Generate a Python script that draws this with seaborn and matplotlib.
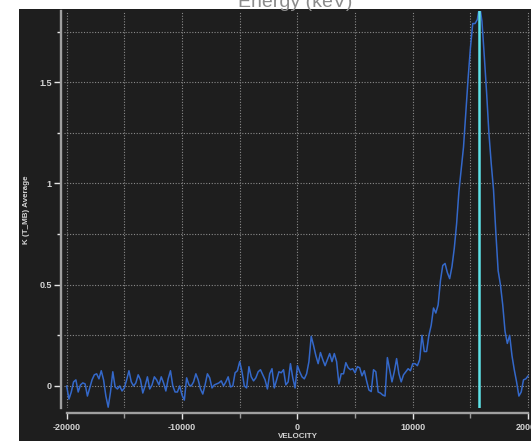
import matplotlib
matplotlib.use("Agg")
import matplotlib.pyplot as plt
from matplotlib.patches import Rectangle
from matplotlib.ticker import MultipleLocator, FuncFormatter
import numpy as np
import pandas as pd
import seaborn as sns

# --- data (channels every 200 km/s) ---
velocity = np.linspace(-20000, 20000, 201)
k_tmb_avg = [
    0.00, -0.065, -0.03, 0.02, 0.03, -0.03, 0.005, 0.015, 0.01, -0.05,
    -0.01, 0.03, 0.055, 0.06, 0.035, 0.075, 0.03, -0.05, -0.105, -0.03,
    0.07, -0.005, -0.015, 0.0, -0.025, -0.01, 0.03, 0.075, 0.02, 0.0,
    0.015, 0.055, 0.03, -0.035, 0.0, 0.045, -0.015, 0.005, 0.045, 0.03,
    0.005, 0.045, 0.015, -0.025, 0.035, 0.075, 0.0, -0.03, -0.03, 0.0,
    -0.045, -0.07, 0.04, 0.005, 0.0, 0.02, 0.06, 0.03, -0.015, -0.04,
    0.005, 0.06, 0.04, -0.01, 0.005, 0.01, 0.015, 0.025, 0.0, 0.02,
    0.045, -0.005, 0.0, 0.065, 0.075, 0.12, 0.07, 0.0, -0.01, 0.095,
    0.045, 0.025, 0.04, 0.07, 0.08, 0.055, 0.03, -0.015, 0.06, 0.085,
    -0.01, 0.03, 0.07, 0.065, 0.08, 0.005, 0.02, 0.11, 0.04, -0.01,
    0.10, 0.07, 0.045, 0.035, 0.06, 0.12, 0.245, 0.20, 0.15, 0.11,
    0.165, 0.13, 0.10, 0.13, 0.16, 0.12, 0.16, 0.12, 0.01, 0.06,
    0.06, 0.115, 0.09, 0.08, 0.085, 0.065, 0.095, 0.09, 0.05, 0.075,
    0.025, -0.02, -0.028, 0.08, 0.07, -0.03, -0.035, -0.045, -0.05, 0.14,
    0.08, 0.02, 0.07, 0.135, 0.06, 0.02, 0.055, 0.07, 0.085, 0.075,
    0.11, 0.11, 0.10, 0.13, 0.25, 0.17, 0.17, 0.25, 0.30, 0.385,
    0.36, 0.40, 0.52, 0.595, 0.605, 0.56, 0.53, 0.59, 0.68, 0.80,
    0.96, 1.07, 1.18, 1.35, 1.52, 1.67, 1.79, 1.79, 1.81, 1.88,
    1.80, 1.63, 1.45, 1.25, 1.10, 0.97, 0.76, 0.57, 0.50, 0.40,
    0.27, 0.21, 0.25, 0.15, 0.08, 0.02, -0.05, -0.03, 0.03, 0.035, 0.05,
]
marker_velocity = 15700

df = pd.DataFrame({"VELOCITY": velocity, "K (T_MB) Average": k_tmb_avg})

# --- style ---
sns.set_style("dark")
plt.rcParams["font.family"] = ["Liberation Sans", "DejaVu Sans"]
bg = "#1e1e1e"
txt = "#d4d4d4"
grid_c = "#8a8a8a"

W, H = 531, 441
fig = plt.figure(figsize=(W / 100, H / 100), dpi=100, facecolor="white")
fig.add_artist(Rectangle((19 / W, 0), 1 - 19 / W, 1 - 9 / H,
                         transform=fig.transFigure, facecolor=bg,
                         edgecolor="none", zorder=0))
ax = fig.add_axes([64 / W, (H - 408) / H, 467 / W, 397 / H])
ax.set_facecolor(bg)

sns.lineplot(data=df, x="VELOCITY", y="K (T_MB) Average", ax=ax,
             color="#3468c9", linewidth=1.1, zorder=3)
ax.axvline(marker_velocity, color="#5fe3e8", linewidth=1.8, zorder=4)

ax.set_xlim(-20230, 20250)
ax.set_ylim(-0.109, 1.852)

ax.xaxis.set_major_locator(MultipleLocator(10000))
ax.xaxis.set_minor_locator(MultipleLocator(5000))
ax.yaxis.set_major_locator(MultipleLocator(0.5))
ax.yaxis.set_minor_locator(MultipleLocator(0.25))
ax.xaxis.set_major_formatter(FuncFormatter(lambda v, p: f"{v:.0f}"))
ax.yaxis.set_major_formatter(FuncFormatter(lambda v, p: f"{v:g}"))

ax.grid(True, which="both", color=grid_c, linestyle=(0, (1, 1.5)),
        linewidth=0.8, zorder=1)

for s in ("top", "right"):
    ax.spines[s].set_visible(False)
ax.spines["left"].set_position(("outward", 2.2))
ax.spines["bottom"].set_position(("outward", 3.6))
ax.spines["bottom"].set_bounds(-20000, 20000)
for s in ("left", "bottom"):
    ax.spines[s].set_color("#a0a0a0")
    ax.spines[s].set_linewidth(1.7)

ax.tick_params(axis="both", which="both", direction="out", bottom=True, left=True)
ax.tick_params(axis="x", which="major", length=4, width=1, color="#e6e6e6",
               labelsize=6.5, labelcolor=txt, pad=3)
ax.tick_params(axis="x", which="minor", length=3.5, width=1, color="#9a9a9a")
ax.tick_params(axis="y", which="major", length=5, width=1, color="#e6e6e6",
               labelsize=6.5, labelcolor=txt, pad=1.5)
ax.tick_params(axis="y", which="minor", length=3, width=1, color="#e6e6e6")
for lab in ax.get_xticklabels() + ax.get_yticklabels():
    lab.set_fontweight("bold")

ax.set_xlabel("VELOCITY", fontsize=5.8, fontweight="bold", color=txt, labelpad=1)
ax.set_ylabel("K (T_MB) Average", fontsize=5.8, fontweight="bold", color=txt)
ax.yaxis.set_label_coords((30 - 64) / 467, 0.5)

fig.text(295 / W, 1 - 7 / H, "Energy (keV)", ha="center", va="baseline",
         fontsize=14, color="#8c8c8c")

fig.savefig("out.png", dpi=100, facecolor=fig.get_facecolor())
